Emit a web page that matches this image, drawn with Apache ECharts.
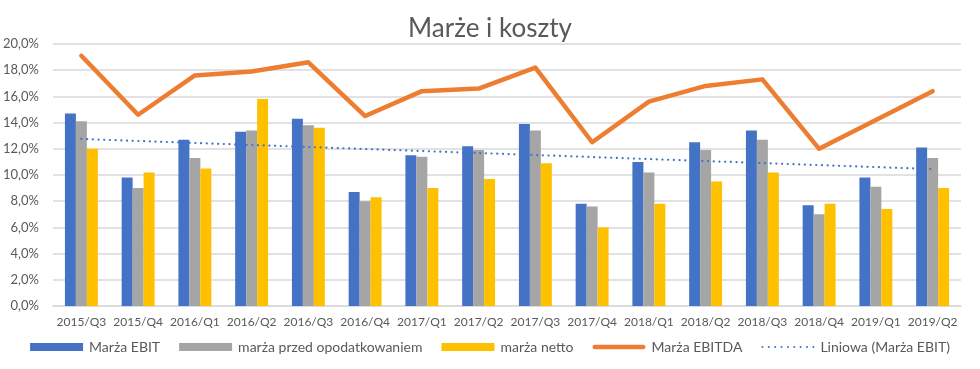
<!DOCTYPE html>
<html><head><meta charset="utf-8">
<script src="https://cdn.jsdelivr.net/npm/echarts@6/dist/echarts.min.js"></script>
<style>html,body{margin:0;padding:0;background:#fff}#c{width:980px;height:369px}</style>
</head><body><div id="c"></div>
<script>
const categories = ['2015/Q3','2015/Q4','2016/Q1','2016/Q2','2016/Q3','2016/Q4','2017/Q1','2017/Q2','2017/Q3','2017/Q4','2018/Q1','2018/Q2','2018/Q3','2018/Q4','2019/Q1','2019/Q2'];
const marzaEBIT = [14.7, 9.8, 12.7, 13.3, 14.3, 8.7, 11.5, 12.2, 13.9, 7.8, 11.0, 12.5, 13.4, 7.7, 9.8, 12.1];
const marzaPrzedOpodatkowaniem = [14.1, 9.0, 11.3, 13.4, 13.8, 8.0, 11.4, 11.9, 13.4, 7.6, 10.2, 11.9, 12.7, 7.0, 9.1, 11.3];
const marzaNetto = [12.0, 10.2, 10.5, 15.8, 13.6, 8.3, 9.0, 9.7, 10.9, 6.0, 7.8, 9.5, 10.2, 7.8, 7.4, 9.0];
const marzaEBITDA = [19.1, 14.6, 17.6, 17.9, 18.6, 14.5, 16.4, 16.6, 18.2, 12.5, 15.6, 16.8, 17.3, 12.0, 14.2, 16.4];
const trendEBIT = [12.75, null, null, null, null, null, null, null, null, null, null, null, null, null, null, 10.45];
const seriesNames = ['Marża EBIT','marża przed opodatkowaniem','marża netto','Marża EBITDA','Liniowa (Marża EBIT)'];

const FONT = 'Lato, "Noto Sans", sans-serif';
const TXT = '#595959';

// legend icons (styling only)
const pillIcon = 'path://M2.3,0 L50.7,0 A2.3,2.3 0 0 1 50.7,4.6 L2.3,4.6 A2.3,2.3 0 0 1 2.3,0 Z';
let dots = '';
for (let i = 0; i < 9; i++) { const x = i * 6.2; dots += 'M' + x + ',1 A1,1 0 1 0 ' + (x + 2) + ',1 A1,1 0 1 0 ' + x + ',1 Z '; }
const dotIcon = 'path://' + dots;

const chart = echarts.init(document.getElementById('c'), null, {renderer:'canvas'});
chart.setOption({
  animation:false,
  textStyle:{fontFamily:FONT},
  title:{text:'Marże i koszty', left:'center', top:11, textStyle:{fontFamily:FONT, fontSize:26, fontWeight:'normal', color:TXT}},
  grid:{left:53, right:19, top:44, bottom:63},
  legend:{
    bottom:10, left:'center', itemGap:19, itemWidth:53, itemHeight:8,
    textStyle:{fontFamily:FONT, fontSize:14, color:TXT, padding:[0,0,0,1]},
    data:[
      {name:seriesNames[0], icon:'rect'},
      {name:seriesNames[1], icon:'rect'},
      {name:seriesNames[2], icon:'rect'},
      {name:seriesNames[3], icon:pillIcon},
      {name:seriesNames[4], icon:dotIcon}
    ]
  },
  xAxis:{type:'category', data:categories,
    axisLine:{lineStyle:{color:'#d9d9d9', width:1.5}}, axisTick:{show:false},
    axisLabel:{color:TXT, fontSize:12, fontFamily:FONT, margin:10, interval:0}},
  yAxis:{type:'value', min:0, max:20, interval:2,
    axisLine:{show:false}, axisTick:{show:false},
    splitLine:{lineStyle:{color:'#d9d9d9', width:1.5}},
    axisLabel:{color:TXT, fontSize:13, fontFamily:FONT, margin:14,
      formatter:v=>v.toFixed(1).replace('.',',')+'%'}},
  series:[
    {name:seriesNames[0], type:'bar', data:marzaEBIT, itemStyle:{color:'#4472C4'}, barGap:'0%', barCategoryGap:'42%'},
    {name:seriesNames[1], type:'bar', data:marzaPrzedOpodatkowaniem, itemStyle:{color:'#A5A5A5'}, barGap:'0%', barCategoryGap:'42%'},
    {name:seriesNames[2], type:'bar', data:marzaNetto, itemStyle:{color:'#FFC000'}, barGap:'0%', barCategoryGap:'42%'},
    {name:seriesNames[3], type:'line', data:marzaEBITDA, symbol:'none', itemStyle:{color:'#ED7D31'},
      lineStyle:{color:'#ED7D31', width:4.5, cap:'round', join:'round'}, z:5},
    {name:seriesNames[4], type:'line', data:trendEBIT, connectNulls:true, symbol:'none', itemStyle:{color:'#4472C4'},
      lineStyle:{color:'#4472C4', width:2.2, type:[0.1,5.6], cap:'round'}, z:6}
  ]
});
</script></body></html>
